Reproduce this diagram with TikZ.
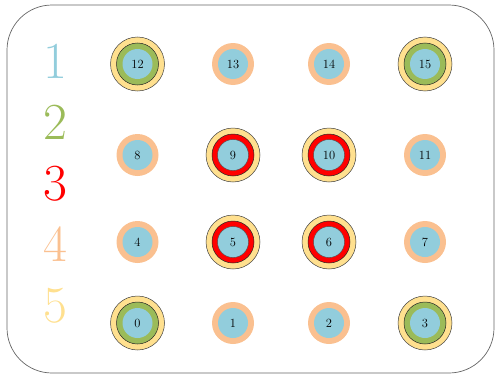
\documentclass[tikz,border=0pt]{standalone}
\usetikzlibrary{positioning}
\definecolor{bluec}{HTML}{92CDDC}
\definecolor{greenc}{HTML}{9BBB59}
\definecolor{redc}{HTML}{FF0000}
\definecolor{peachc}{HTML}{FAC090}
\definecolor{yellowc}{HTML}{FFE08F}
\tikzset{
  frame/.style={draw=black!60, line width=0.7pt, rounded corners=45pt},
  outer/.style={circle, draw=black!75, fill=yellowc, minimum size=54pt, inner sep=0pt, line width=0.5pt},
  greenring/.style={circle, draw=black!85, fill=greenc, minimum size=42pt, inner sep=0pt, line width=0.5pt},
  redring/.style={circle, draw=black!85, fill=redc, minimum size=42pt, inner sep=0pt, line width=0.5pt},
  peachring/.style={circle, fill=peachc, minimum size=42pt, inner sep=0pt},
  core/.style={circle, fill=bluec, minimum size=30pt, inner sep=0pt, font=\fontsize{12.5}{14}\selectfont},
  redcore/.style={core, draw=black!70, line width=0.4pt, minimum size=31pt},
  legend/.style={font=\fontsize{52}{60}\selectfont, anchor=base, inner sep=0pt}
}
\begin{document}
\begin{tikzpicture}[x=1pt,y=1pt]
\useasboundingbox (0,0) rectangle (495,376);
\draw[frame] (7,3) rectangle (494,371);
% legend
\node[legend, text=bluec]   (l1) at (55,298) {1};
\node[legend, text=greenc]  (l2) at (55,237) {2};
\node[legend, text=redc]    (l3) at (55,176) {3};
\node[legend, text=peachc]  (l4) at (55,115) {4};
\node[legend, text=yellowc] (l5) at (55,54) {5};
% corner nodes (green)
\foreach \n/\x/\y in {0/137.5/53, 3/425/53, 12/137.5/312, 15/425/312}{
  \node[outer] (o\n) at (\x,\y) {};
  \node[greenring] (r\n) at (\x,\y) {};
  \node[core] (n\n) at (\x,\y) {\n};
}
% red nodes
\foreach \n/\x/\y in {5/233/134, 6/329/134, 9/233/221, 10/329/221}{
  \node[outer] (o\n) at (\x,\y) {};
  \node[redring] (r\n) at (\x,\y) {};
  \node[redcore] (n\n) at (\x,\y) {\n};
}
% peach nodes
\foreach \n/\x/\y in {1/233/53, 2/329/53, 4/137.5/134, 7/425/134, 8/137.5/221, 11/425/221, 13/233/312, 14/329/312}{
  \node[peachring] (r\n) at (\x,\y) {};
  \node[core] (n\n) at (\x,\y) {\n};
}
\end{tikzpicture}
\end{document}
